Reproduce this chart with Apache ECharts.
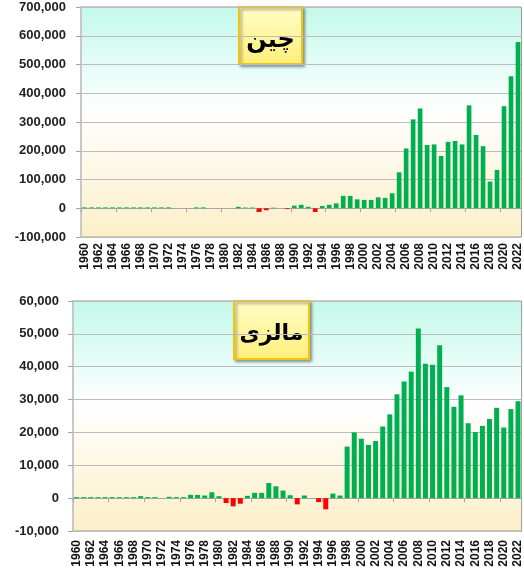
<!DOCTYPE html>
<html>
<head>
<meta charset="utf-8">
<script src="https://cdn.jsdelivr.net/npm/echarts@6/dist/echarts.min.js"></script>
<style>
  html, body { margin: 0; padding: 0; background: #fff; }
  #chart { width: 524px; height: 573px; }
</style>
</head>
<body>
<div id="chart"></div>
<script>
// years 1960..2022
const years = [];
for (let y = 1960; y <= 2022; y++) years.push(String(y));

// چین (China)
const chinaValues = [
  3000, 3000, 3000, 3000, 3000, 3000, 3000, 3000, 3000, 3000, // 1960-1969
  3000, 3000, 3000, 0, 0, 0, 3000, 3000, 0, 0,                 // 1970-1979
  0, 0, 5000, 2500, 2500, -13000, -7000, 2000, 0, -3000,       // 1980-1989
  9000, 12000, 5000, -13000, 8000, 12000, 17000, 43000, 43000, 31000, // 1990-1999
  29000, 29000, 38000, 36000, 52000, 125000, 208000, 309000, 347000, 220000, // 2000-2009
  222000, 182000, 231000, 234000, 222000, 358000, 255000, 216000, 93000, 133000, // 2010-2019
  355000, 459000, 578000                                        // 2020-2022
];

// مالزی (Malaysia)
const malaysiaValues = [
  300, 300, 300, 300, 300, 300, 300, 300, 300, 600,            // 1960-1969
  300, 300, 0, 400, 300, 300, 1000, 1000, 800, 1800,           // 1970-1979
  600, -1500, -2500, -1700, 700, 1600, 1600, 4600, 3600, 2300, // 1980-1989
  900, -1900, 800, 0, -1200, -3400, 1400, 800, 15700, 20000,   // 1990-1999
  18100, 16200, 17400, 21800, 25500, 31600, 35500, 38500, 51600, 40900, // 2000-2009
  40600, 46500, 33800, 27800, 31300, 22800, 20100, 22000, 24100, 27500, // 2010-2019
  21500, 27100, 29500                                           // 2020-2022
];

const chinaAxis = { min: -100000, max: 700000, interval: 100000 };
const malaysiaAxis = { min: -10000, max: 60000, interval: 10000 };

const GREEN = "#00b050";
const RED = "#ff0000";

const plotBg = {
  type: "linear", x: 0, y: 0, x2: 0, y2: 1,
  colorStops: [
    { offset: 0, color: "#c3f9ea" },
    { offset: 0.45, color: "#ffffff" },
    { offset: 1, color: "#fcefc8" },
  ],
};

const boxFill = {
  type: "linear", x: 0, y: 0, x2: 0, y2: 1,
  colorStops: [
    { offset: 0, color: "#fffdc8" },
    { offset: 1, color: "#fff07a" },
  ],
};

function fmt(v) {
  return v.toLocaleString("en-US");
}

function zeroAxis(gridIndex) {
  return {
    type: "category",
    gridIndex,
    data: years,
    position: "bottom",
    axisLine: { onZero: true, lineStyle: { color: "#a6a6a6", width: 1 } },
    axisTick: { show: true, length: 4, lineStyle: { color: "#a6a6a6" } },
    axisLabel: { show: false },
    splitLine: { show: false },
  };
}

function labelAxis(gridIndex, margin) {
  return {
    type: "category",
    gridIndex,
    data: years,
    position: "bottom",
    axisLine: { show: false, onZero: false },
    axisTick: { show: false },
    axisLabel: {
      interval: 1,
      rotate: 90,
      margin,
      color: "#111",
      fontSize: 12,
      fontWeight: "bold",
      fontFamily: "Liberation Sans, Arial, sans-serif",
    },
  };
}

function valueAxis(gridIndex, range, margin) {
  return {
    type: "value",
    gridIndex,
    min: range.min,
    max: range.max,
    interval: range.interval,
    axisLine: { show: true, lineStyle: { color: "#c8c8c8", width: 2 } },
    axisTick: { show: true, length: 5, lineStyle: { color: "#a6a6a6" } },
    axisLabel: {
      margin,
      color: "#222",
      fontSize: 13,
      fontWeight: "bold",
      fontFamily: "Liberation Sans, Arial, sans-serif",
      formatter: fmt,
    },
    splitLine: { show: true, lineStyle: { color: "#bcbcbc", width: 1 } },
  };
}

function barSeries(values, xIdx, yIdx, gap) {
  return {
    type: "bar",
    xAxisIndex: xIdx,
    yAxisIndex: yIdx,
    data: values,
    barCategoryGap: gap,
    itemStyle: {
      color: (p) => (p.value < 0 ? RED : GREEN),
    },
    silent: true,
  };
}

function titleBox(left, top, w, h, label, size, dy) {
  return {
    type: "group",
    left,
    top,
    z: 100,
    children: [
      {
        type: "rect",
        shape: { x: 0, y: 0, width: w, height: h },
        style: {
          fill: boxFill,
          stroke: "#f2c40f",
          lineWidth: 2,
          shadowBlur: 3,
          shadowOffsetX: 2,
          shadowOffsetY: 2,
          shadowColor: "rgba(0,0,0,0.35)",
        },
      },
      {
        type: "text",
        style: {
          text: label,
          x: w / 2,
          y: h / 2 + dy,
          align: "center",
          verticalAlign: "middle",
          fontSize: size,
          fontWeight: "bold",
          fontFamily: "DejaVu Sans, sans-serif",
          fill: "#000",
        },
      },
    ],
  };
}

const chart = echarts.init(document.getElementById("chart"));
chart.setOption({
  animation: false,
  backgroundColor: "#fff",
  grid: [
    { left: 81, right: 2, top: 7, height: 230, show: true, backgroundColor: plotBg, borderColor: "#9a9a9a", borderWidth: 1 },
    { left: 73, right: 2, top: 301, height: 230, show: true, backgroundColor: plotBg, borderColor: "#9a9a9a", borderWidth: 1 },
  ],
  xAxis: [zeroAxis(0), labelAxis(0, 6), zeroAxis(1), labelAxis(1, 9)],
  yAxis: [valueAxis(0, chinaAxis, 15), valueAxis(1, malaysiaAxis, 14)],
  series: [
    barSeries(chinaValues, 0, 0, "33%"),
    barSeries(malaysiaValues, 2, 1, "30%"),
  ],
  graphic: [
    titleBox(238, 6, 63, 57, "چین", 24, 5),
    titleBox(233, 300, 75, 58, "مالزی", 22, 4),
  ],
});
</script>
</body>
</html>
